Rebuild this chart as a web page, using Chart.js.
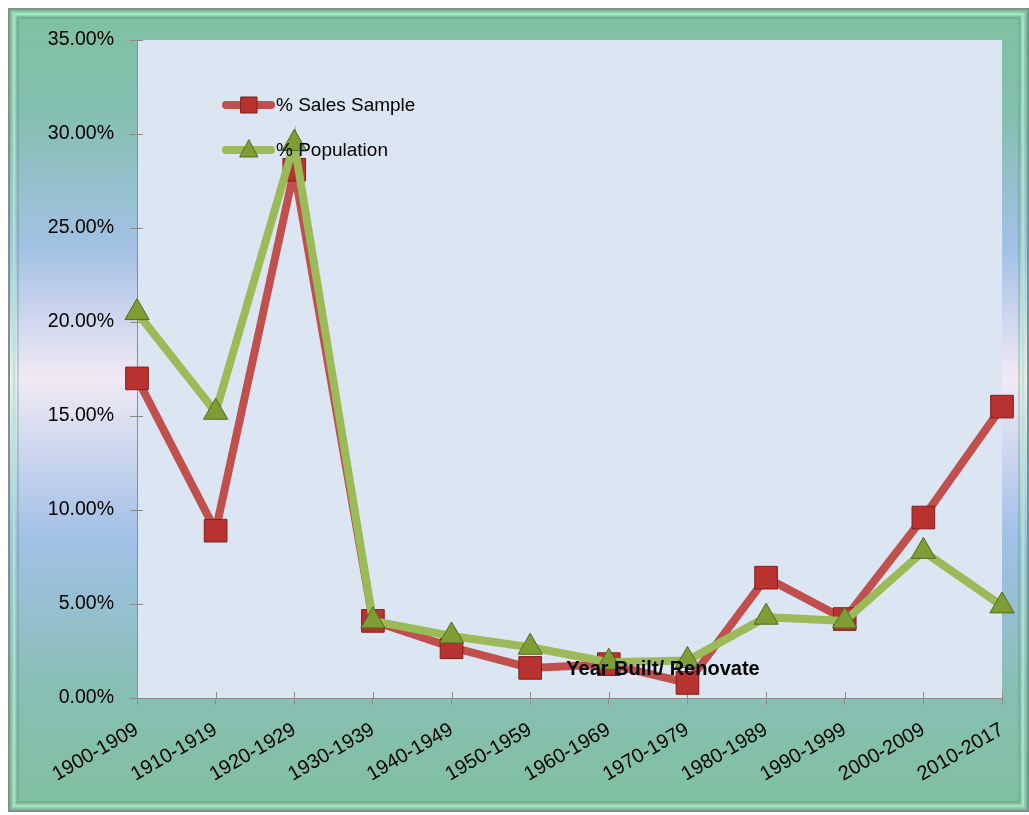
<!DOCTYPE html>
<html>
<head>
<meta charset="utf-8">
<script src="https://cdn.jsdelivr.net/npm/chart.js@4"></script>
<style>
  body { margin: 0; background: #ffffff; }
  #wrap { width: 1029px; height: 815px; position: relative; }
</style>
</head>
<body>
<div id="wrap"><canvas id="yearChart" width="1029" height="815"></canvas></div>
<script>
// categories on the x axis
const categories = [
  "1900-1909", "1910-1919", "1920-1929", "1930-1939", "1940-1949", "1950-1959",
  "1960-1969", "1970-1979", "1980-1989", "1990-1999", "2000-2009", "2010-2017",
];
// values in percent
const salesSample = [17.0, 8.9, 28.1, 4.1, 2.7, 1.6, 1.8, 0.8, 6.4, 4.2, 9.6, 15.5];
const population = [20.5, 15.2, 29.5, 4.1, 3.3, 2.7, 1.9, 2.0, 4.3, 4.1, 7.8, 4.9];
const seriesNames = ["% Sales Sample", "% Population"];
const axisTitle = "Year Built/ Renovate";

const fontName = "'Liberation Sans', Arial, sans-serif";

// frame + plot area background, drawn before everything else
const backgroundPlugin = {
  id: "background",
  beforeDraw(chart) {
    const ctx = chart.ctx;
    const area = chart.chartArea;
    ctx.save();
    ctx.fillStyle = "#ffffff";
    ctx.fillRect(0, 0, chart.width, chart.height);

    const x0 = 8, y0 = 8, x1 = chart.width, y1 = chart.height - 3;
    const grad = ctx.createLinearGradient(0, y0, 0, y1);
    grad.addColorStop(0, "#80c1a0");
    grad.addColorStop(0.13, "#84bfb0");
    grad.addColorStop(0.3, "#a3c1e4");
    grad.addColorStop(0.46, "#f1eaf5");
    grad.addColorStop(0.66, "#a1c0e6");
    grad.addColorStop(0.84, "#88bfb6");
    grad.addColorStop(1, "#80c09c");
    ctx.fillStyle = grad;
    ctx.fillRect(x0, y0, x1 - x0, y1 - y0);

    // bevel frame
    ctx.lineWidth = 2;
    ctx.strokeStyle = "#7f9189";
    ctx.strokeRect(x0 + 1, y0 + 1, x1 - x0 - 2, y1 - y0 - 2);
    ctx.lineWidth = 3;
    ctx.strokeStyle = "rgba(170,235,200,0.8)";
    ctx.strokeRect(x0 + 6, y0 + 6, x1 - x0 - 12, y1 - y0 - 12);
    ctx.lineWidth = 1;
    ctx.strokeStyle = "rgba(90,140,120,0.6)";
    ctx.strokeRect(x0 + 10, y0 + 10, x1 - x0 - 20, y1 - y0 - 20);

    // plot area
    ctx.fillStyle = "#dce6f2";
    ctx.fillRect(area.left, area.top, area.right - area.left, area.bottom - area.top);
    ctx.restore();
  },
};

// cross ticks on the inside of both axes
const innerTicksPlugin = {
  id: "innerTicks",
  beforeDatasetsDraw(chart) {
    const ctx = chart.ctx;
    const area = chart.chartArea;
    const xs = chart.scales.x;
    const ys = chart.scales.y;
    ctx.save();
    ctx.strokeStyle = "#8c8c8c";
    ctx.lineWidth = 1;
    ctx.beginPath();
    xs.ticks.forEach((t, i) => {
      const x = Math.round(xs.getPixelForTick(i)) + 0.5;
      ctx.moveTo(x, area.bottom);
      ctx.lineTo(x, area.bottom - 6);
    });
    ys.ticks.forEach((t, i) => {
      const y = Math.round(ys.getPixelForTick(i)) + 0.5;
      ctx.moveTo(area.left, y);
      ctx.lineTo(area.left + 6, y);
    });
    ctx.stroke();
    ctx.restore();
  },
};

// legend inside the plot + axis title sitting over the lines
const overlayPlugin = {
  id: "overlay",
  afterDatasetsDraw(chart) {
    const ctx = chart.ctx;
    const area = chart.chartArea;
    ctx.save();
    chart.data.datasets.forEach((ds, i) => {
      const y = area.top + 65 + i * 45;
      const lx = area.left + 89;
      ctx.strokeStyle = ds.borderColor;
      ctx.lineWidth = 8;
      ctx.lineCap = "round";
      ctx.beginPath();
      ctx.moveTo(lx, y);
      ctx.lineTo(lx + 45, y);
      ctx.stroke();
      ctx.fillStyle = ds.pointBackgroundColor;
      ctx.strokeStyle = ds.pointBorderColor;
      ctx.lineWidth = 1;
      ctx.beginPath();
      if (ds.pointStyle === "rect") {
        ctx.rect(lx + 15, y - 8, 16, 16);
      } else {
        ctx.moveTo(lx + 23, y - 10);
        ctx.lineTo(lx + 32, y + 7);
        ctx.lineTo(lx + 14, y + 7);
        ctx.closePath();
      }
      ctx.fill();
      ctx.stroke();
      ctx.fillStyle = "#000000";
      ctx.font = "19px " + fontName;
      ctx.textBaseline = "middle";
      ctx.textAlign = "left";
      ctx.fillText(ds.label, lx + 50, y + 1);
    });
    ctx.font = "bold 20px " + fontName;
    ctx.fillStyle = "#000000";
    ctx.textAlign = "center";
    ctx.textBaseline = "middle";
    ctx.fillText(axisTitle, area.left + 526, area.bottom - 29);
    ctx.restore();
  },
};

new Chart("yearChart", {
  type: "line",
  data: {
    labels: categories,
    datasets: [
      {
        label: seriesNames[0],
        data: salesSample,
        borderColor: "#c0504d",
        borderWidth: 8,
        pointStyle: "rect",
        pointRadius: 16,
        pointBackgroundColor: "#b8322f",
        pointBorderColor: "#7e1f1d",
        pointBorderWidth: 1,
        tension: 0,
        order: 1,
      },
      {
        label: seriesNames[1],
        data: population,
        borderColor: "#9bbb59",
        borderWidth: 8,
        pointStyle: "triangle",
        pointRadius: 14,
        pointBackgroundColor: "#7e9e35",
        pointBorderColor: "#4f6a1e",
        pointBorderWidth: 1,
        tension: 0,
        order: 0,
      },
    ],
  },
  options: {
    responsive: false,
    animation: false,
    devicePixelRatio: 1,
    layout: { padding: { left: 0, right: 27, top: 40, bottom: 0 } },
    plugins: {
      legend: { display: false },
      tooltip: { enabled: false },
    },
    scales: {
      x: {
        offset: false,
        grid: { display: true, drawOnChartArea: false, color: "#8c8c8c", tickLength: 7 },
        border: { color: "#8c8c8c", width: 1 },
        ticks: {
          color: "#000000",
          font: { family: fontName, size: 20 },
          minRotation: 30,
          maxRotation: 30,
          padding: 13,
          autoSkip: false,
        },
        afterFit: (scale) => { scale.height = 117; },
      },
      y: {
        min: 0,
        max: 35,
        grid: { display: true, drawOnChartArea: false, color: "#8c8c8c", tickLength: 7 },
        border: { color: "#8c8c8c", width: 1 },
        ticks: {
          stepSize: 5,
          color: "#000000",
          font: { family: fontName, size: 19.5 },
          padding: 16,
          callback: (v) => v.toFixed(2) + "%",
        },
        afterFit: (scale) => { scale.width = 137; },
      },
    },
  },
  plugins: [backgroundPlugin, innerTicksPlugin, overlayPlugin],
});
</script>
</body>
</html>
